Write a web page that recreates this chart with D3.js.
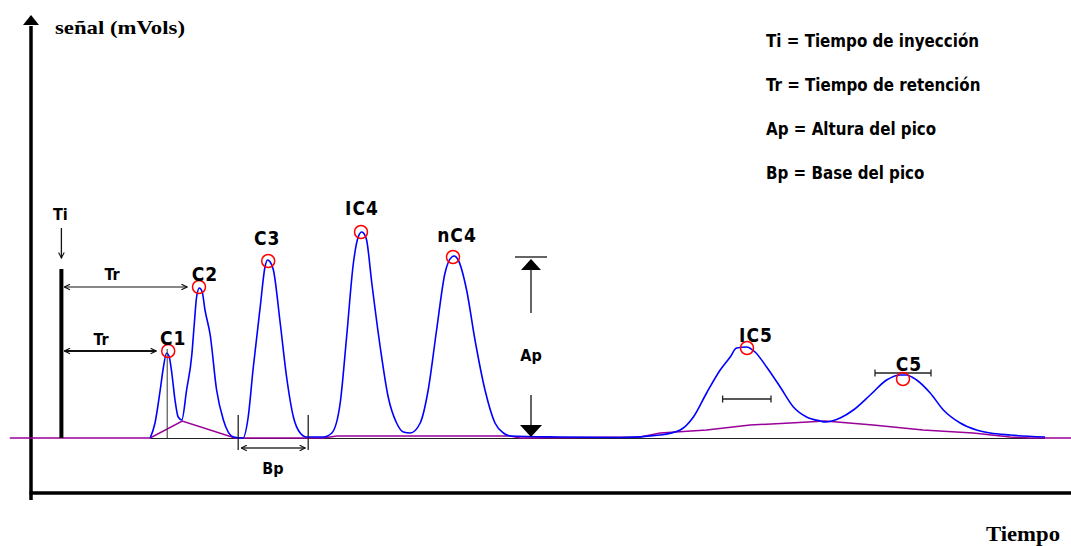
<!DOCTYPE html>
<html>
<head>
<meta charset="utf-8">
<script src="https://cdn.jsdelivr.net/npm/d3@7"></script>
<style>
  html, body { margin: 0; padding: 0; background: #fff; }
  svg { display: block; }
</style>
</head>
<body>
<div id="chart"></div>
<script>
(function() {
  'use strict';

  // chromatogram trace: time (min) and signal (mV)
  var traceTime = [2.98, 3.10, 3.23, 3.30, 3.39, 3.45, 3.52, 3.60, 3.68, 3.77,
    3.89, 4.02, 4.08, 4.14, 4.21, 4.28, 4.35, 4.48, 4.64, 4.81, 5.06, 5.30,
    5.43, 5.55, 5.73, 5.85, 5.91, 5.98, 6.06, 6.23, 6.39, 6.56, 6.73, 6.89,
    7.31, 7.52, 7.73, 7.89, 8.06, 8.18, 8.27, 8.33, 8.39, 8.52, 8.73, 8.93,
    9.14, 9.31, 9.48, 9.73, 9.93, 10.14, 10.35, 10.52, 10.58, 10.68, 10.89,
    11.10, 11.35, 11.60, 11.81, 11.98, 13.23, 14.73, 15.73, 16.23, 16.56,
    16.89, 17.23, 17.48, 17.64, 17.89, 18.10, 18.39, 18.73, 19.06, 19.39,
    19.73, 19.85, 20.23, 20.56, 20.98, 21.39, 21.73, 21.88, 22.14, 22.48,
    22.81, 23.23, 23.64, 23.98, 24.48, 25.35];
  var traceSignal = [0, 1.5, 4.8, 6.8, 8.5, 8.2, 6.5, 3.8, 2.1, 1.8,
    4.8, 8.3, 11.3, 14.1, 15.0, 14.6, 12.8, 10.3, 4.8, 1.8, 0.1, 0,
    2.1, 6.8, 13.1, 17.1, 17.8, 17.6, 16.8, 11.5, 6.1, 2.1, 0.5, 0.1,
    0.1, 0.5, 3.5, 10.1, 17.5, 20.1, 20.6, 20.4, 19.8, 15.5, 9.1, 4.1,
    1.5, 0.6, 0.5, 1.5, 4.8, 10.8, 16.5, 18.1, 18.2, 17.8, 14.8,
    9.8, 4.8, 1.5, 0.5, 0.2, 0.1, 0.05, 0.3, 0.8, 2.1,
    4.5, 6.8, 8.1, 9.0, 9.1, 8.6, 7.1, 5.1, 3.1, 2.1,
    1.7, 1.6, 2.0, 2.8, 4.3, 5.8, 6.3, 6.3, 5.8, 4.5,
    2.8, 1.5, 0.8, 0.5, 0.3, 0.1];

  // integration baseline (purple)
  var baseTime = [-0.53, 2.98, 3.78, 5.10, 7.30, 7.65, 11.98, 12.23, 15.23,
    15.73, 16.89, 17.98, 18.98, 19.85, 21.05, 22.30, 23.55, 24.48, 24.98, 26];
  var baseSignal = [0, 0, 1.7, 0, 0, 0.2, 0.2, 0, 0.1,
    0.5, 0.8, 1.3, 1.5, 1.7, 1.3, 0.8, 0.5, 0.1, 0, 0];

  // detected peaks
  var peakNames = ['C1', 'C2', 'C3', 'IC4', 'nC4', 'IC5', 'C5'];
  var peakTimes = [3.43, 4.20, 5.93, 8.25, 10.55, 17.90, 21.80];
  var peakHeights = [8.7, 15.1, 17.7, 20.6, 18.1, 9.0, 5.9];

  var injectionTime = 0.76;
  var legendLines = [
    'Ti = Tiempo de inyección',
    'Tr = Tiempo de retención',
    'Ap = Altura del pico',
    'Bp = Base del pico'
  ];

  // label nudges relative to the peak marker (px)
  var labelDx = [5, 6, -1, 1, 4, 9, 6];
  var labelDy = [-6, -6, -16, -17, -15, -6, -8];

  var width = 1071, height = 546;
  var sansBold = '"DejaVu Sans Condensed", "Liberation Sans Narrow", "DejaVu Sans", sans-serif';
  var serif = '"Liberation Serif", "DejaVu Serif", serif';

  var svg = d3.select('#chart').append('svg')
    .attr('width', width)
    .attr('height', height);

  var x = d3.scaleLinear().domain([0, 26]).range([31, 1071]);
  var y = d3.scaleLinear().domain([-5.5, 42.1]).range([493, 17]);

  var defs = svg.append('defs');
  defs.append('marker')
    .attr('id', 'arr')
    .attr('viewBox', '0 0 10 10')
    .attr('refX', 9).attr('refY', 5)
    .attr('markerWidth', 7).attr('markerHeight', 7)
    .attr('markerUnits', 'userSpaceOnUse')
    .attr('orient', 'auto-start-reverse')
    .append('path')
    .attr('d', 'M1,1 L9,5 L1,9')
    .attr('fill', 'none')
    .attr('stroke', '#111')
    .attr('stroke-width', 1.6);

  // axes (plain arrows, no ticks)
  svg.append('line')
    .attr('x1', x(0)).attr('x2', x(0))
    .attr('y1', y(41.2)).attr('y2', 500)
    .attr('stroke', '#000').attr('stroke-width', 3.5);
  svg.append('path')
    .attr('d', 'M' + x(0) + ',' + (y(42.1) - 2) + ' l-8,10 l16,0 z')
    .attr('fill', '#000');
  svg.append('line')
    .attr('x1', x(0) - 1.5).attr('x2', x(26))
    .attr('y1', y(-5.5)).attr('y2', y(-5.5))
    .attr('stroke', '#000').attr('stroke-width', 3.5);

  svg.append('text')
    .attr('x', 55).attr('y', 34)
    .style('font-family', serif)
    .style('font-weight', 'bold')
    .style('font-size', '19px')
    .attr('textLength', 130)
    .attr('lengthAdjust', 'spacingAndGlyphs')
    .text('señal (mVols)');
  svg.append('text')
    .attr('x', 986).attr('y', 541)
    .style('font-family', serif)
    .style('font-weight', 'bold')
    .style('font-size', '20px')
    .attr('textLength', 74)
    .attr('lengthAdjust', 'spacingAndGlyphs')
    .text('Tiempo');

  // legend
  svg.selectAll('text.legend')
    .data(legendLines)
    .enter().append('text')
    .attr('class', 'legend')
    .attr('x', 766)
    .attr('y', function(d, i) { return 47 + i * 44; })
    .style('font-family', sansBold)
    .style('font-weight', 'bold')
    .style('font-size', '16.8px')
    .text(function(d) { return d; });

  // baselines
  var traceLine = d3.line()
    .x(function(d) { return x(d[0]); })
    .y(function(d) { return y(d[1]); });

  svg.append('line')
    .attr('x1', x(traceTime[0])).attr('x2', x(traceTime[traceTime.length - 1]))
    .attr('y1', y(0) + 0.5).attr('y2', y(0) + 0.5)
    .attr('stroke', '#222').attr('stroke-width', 1.2);

  svg.append('path')
    .datum(d3.zip(baseTime, baseSignal))
    .attr('d', traceLine)
    .attr('fill', 'none')
    .attr('stroke', '#990099')
    .attr('stroke-width', 1.5);

  // chromatogram
  svg.append('path')
    .datum(d3.zip(traceTime, traceSignal))
    .attr('d', traceLine.curve(d3.curveMonotoneX))
    .attr('fill', 'none')
    .attr('stroke', '#0000ff')
    .attr('stroke-width', 1.6);

  // injection mark
  svg.append('line')
    .attr('x1', x(injectionTime)).attr('x2', x(injectionTime))
    .attr('y1', y(16.9)).attr('y2', y(0))
    .attr('stroke', '#000').attr('stroke-width', 4);
  svg.append('text')
    .attr('x', x(injectionTime) - 1).attr('y', 220)
    .attr('text-anchor', 'middle')
    .style('font-family', sansBold).style('font-weight', 'bold').style('font-size', '16px')
    .text('Ti');
  svg.append('line')
    .attr('x1', x(injectionTime)).attr('x2', x(injectionTime))
    .attr('y1', 228).attr('y2', 258)
    .attr('stroke', '#111').attr('stroke-width', 1.3)
    .attr('marker-end', 'url(#arr)');

  // retention time arrows (C2 and C1)
  [[1, 280, 112, 1.2], [0, 345, 101, 2.2]].forEach(function(r) {
    var i = r[0];
    svg.append('line')
      .attr('x1', x(injectionTime) + 3).attr('x2', x(peakTimes[i]) - 12)
      .attr('y1', y(peakHeights[i])).attr('y2', y(peakHeights[i]))
      .attr('stroke', '#111').attr('stroke-width', r[3])
      .attr('marker-start', 'url(#arr)')
      .attr('marker-end', 'url(#arr)');
    svg.append('text')
      .attr('x', r[2]).attr('y', r[1])
      .attr('text-anchor', 'middle')
      .style('font-family', sansBold).style('font-weight', 'bold').style('font-size', '16px')
      .text('Tr');
  });

  // drop line under C1
  svg.append('line')
    .attr('x1', x(peakTimes[0]) - 1).attr('x2', x(peakTimes[0]) - 1)
    .attr('y1', y(peakHeights[0]) - 2).attr('y2', y(0))
    .attr('stroke', '#333').attr('stroke-width', 1);

  // peak base (Bp) for C3
  [5.18, 6.93].forEach(function(t) {
    svg.append('line')
      .attr('x1', x(t)).attr('x2', x(t))
      .attr('y1', y(2.3)).attr('y2', y(-1.2))
      .attr('stroke', '#111').attr('stroke-width', 1.2);
  });
  svg.append('line')
    .attr('x1', x(5.18) + 3).attr('x2', x(6.93) - 3)
    .attr('y1', y(-1.0)).attr('y2', y(-1.0))
    .attr('stroke', '#333').attr('stroke-width', 1.3)
    .attr('marker-start', 'url(#arr)')
    .attr('marker-end', 'url(#arr)');
  svg.append('text')
    .attr('x', 273).attr('y', 474)
    .attr('text-anchor', 'middle')
    .style('font-family', sansBold).style('font-weight', 'bold').style('font-size', '16px')
    .text('Bp');

  // peak height (Ap) for nC4
  var apX = x(12.5), apTop = y(peakHeights[4]), apBot = y(0);
  svg.append('line')
    .attr('x1', apX - 16).attr('x2', apX + 16)
    .attr('y1', apTop).attr('y2', apTop)
    .attr('stroke', '#111').attr('stroke-width', 1.3);
  svg.append('path')
    .attr('d', 'M' + apX + ',' + (apTop + 2) + ' l-10,11 l20,0 z')
    .attr('fill', '#000');
  svg.append('line')
    .attr('x1', apX).attr('x2', apX)
    .attr('y1', apTop + 12).attr('y2', 313)
    .attr('stroke', '#111').attr('stroke-width', 1.3);
  svg.append('text')
    .attr('x', apX).attr('y', 361)
    .attr('text-anchor', 'middle')
    .style('font-family', sansBold).style('font-weight', 'bold').style('font-size', '16px')
    .text('Ap');
  svg.append('line')
    .attr('x1', apX).attr('x2', apX)
    .attr('y1', 395).attr('y2', apBot - 12)
    .attr('stroke', '#111').attr('stroke-width', 1.3);
  svg.append('path')
    .attr('d', 'M' + apX + ',' + (apBot - 1) + ' l-11,-12 l22,0 z')
    .attr('fill', '#000');

  // half-width bars on the C5 pair
  [[17.29, 18.50, 3.9], [21.10, 22.50, 6.5]].forEach(function(b) {
    var yy = y(b[2]);
    svg.append('path')
      .attr('d', 'M' + x(b[0]) + ',' + yy + 'H' + x(b[1]) +
        'M' + x(b[0]) + ',' + (yy - 3.5) + 'v7' +
        'M' + x(b[1]) + ',' + (yy - 3.5) + 'v7')
      .attr('fill', 'none')
      .attr('stroke', '#222').attr('stroke-width', 1.3);
  });

  // peak markers and labels
  var peaks = peakNames.map(function(n, i) {
    return { name: n, t: peakTimes[i], h: peakHeights[i], dx: labelDx[i], dy: labelDy[i] };
  });

  svg.selectAll('circle.peak')
    .data(peaks)
    .enter().append('circle')
    .attr('class', 'peak')
    .attr('cx', function(d) { return x(d.t); })
    .attr('cy', function(d) { return y(d.h); })
    .attr('r', 6.5)
    .attr('fill', 'none')
    .attr('stroke', '#ff0000')
    .attr('stroke-width', 1.5);

  svg.selectAll('text.peak')
    .data(peaks)
    .enter().append('text')
    .attr('class', 'peak')
    .attr('x', function(d) { return x(d.t) + d.dx; })
    .attr('y', function(d) { return y(d.h) + d.dy; })
    .attr('text-anchor', 'middle')
    .style('font-family', sansBold)
    .style('font-weight', 'bold')
    .style('font-size', '19px')
    .style('letter-spacing', '1px')
    .text(function(d) { return d.name; });
})();
</script>
</body>
</html>
